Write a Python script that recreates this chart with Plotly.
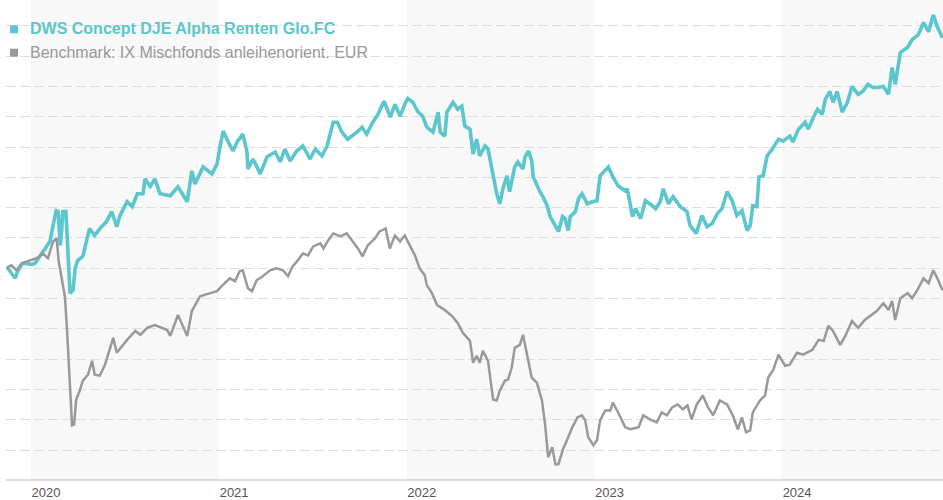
import plotly.graph_objects as go

fund_name = "DWS Concept DJE Alpha Renten Glo.FC"
bench_name = "Benchmark: IX Mischfonds anleihenorient. EUR"

fund_dates = [
    "2019-11-15", "2019-12-01", "2019-12-07", "2019-12-16", "2020-01-03", "2020-01-09", "2020-01-22",
    "2020-02-01", "2020-02-07", "2020-02-13", "2020-02-19", "2020-02-23", "2020-02-27", "2020-03-01",
    "2020-03-03", "2020-03-09", "2020-03-13", "2020-03-17", "2020-03-23", "2020-03-27", "2020-04-01",
    "2020-04-11", "2020-04-16", "2020-04-24", "2020-05-04", "2020-05-14", "2020-05-27", "2020-06-06",
    "2020-06-16", "2020-06-22", "2020-07-06", "2020-07-16", "2020-07-26", "2020-08-06", "2020-08-10",
    "2020-08-20", "2020-08-29", "2020-09-08", "2020-09-28", "2020-10-13", "2020-10-31", "2020-11-09",
    "2020-11-15", "2020-12-01", "2020-12-18", "2020-12-28", "2021-01-03", "2021-01-09", "2021-01-18",
    "2021-01-28", "2021-02-06", "2021-02-16", "2021-02-24", "2021-02-26", "2021-03-08", "2021-03-22",
    "2021-04-04", "2021-04-20", "2021-04-30", "2021-05-09", "2021-05-19", "2021-06-01", "2021-06-13",
    "2021-06-27", "2021-07-07", "2021-07-20", "2021-07-30", "2021-08-11", "2021-08-19", "2021-08-28",
    "2021-09-08", "2021-09-26", "2021-10-06", "2021-10-15", "2021-10-27", "2021-11-06", "2021-11-18",
    "2021-11-30", "2021-12-09", "2021-12-19", "2021-12-28", "2022-01-03", "2022-01-13", "2022-01-22",
    "2022-02-01", "2022-02-09", "2022-02-21", "2022-03-03", "2022-03-07", "2022-03-16", "2022-03-20",
    "2022-04-01", "2022-04-10", "2022-04-18", "2022-04-24", "2022-05-04", "2022-05-10", "2022-05-17",
    "2022-05-23", "2022-06-02", "2022-06-08", "2022-06-15", "2022-06-25", "2022-07-01", "2022-07-07",
    "2022-07-15", "2022-07-20", "2022-07-30", "2022-08-05", "2022-08-15", "2022-08-19", "2022-08-26",
    "2022-09-01", "2022-09-04", "2022-09-11", "2022-09-17", "2022-09-23", "2022-10-01", "2022-10-07",
    "2022-10-17", "2022-10-23", "2022-10-31", "2022-11-05", "2022-11-11", "2022-11-15", "2022-11-25",
    "2022-12-01", "2022-12-08", "2022-12-18", "2022-12-28", "2023-01-06", "2023-01-12", "2023-01-22",
    "2023-01-28", "2023-02-06", "2023-02-16", "2023-03-02", "2023-03-06", "2023-03-16", "2023-03-22",
    "2023-04-01", "2023-04-10", "2023-04-24", "2023-04-30", "2023-05-09", "2023-05-15", "2023-05-25",
    "2023-06-03", "2023-06-17", "2023-06-30", "2023-07-06", "2023-07-18", "2023-07-29", "2023-08-08",
    "2023-08-18", "2023-08-28", "2023-09-06", "2023-09-16", "2023-09-26", "2023-10-05", "2023-10-15",
    "2023-10-25", "2023-10-31", "2023-11-05", "2023-11-13", "2023-11-17", "2023-11-25", "2023-12-03",
    "2023-12-13", "2023-12-25", "2024-01-03", "2024-01-16", "2024-01-22", "2024-02-02", "2024-02-15",
    "2024-02-21", "2024-03-02", "2024-03-10", "2024-03-19", "2024-03-25", "2024-04-03", "2024-04-09",
    "2024-04-17", "2024-04-27", "2024-05-07", "2024-05-16", "2024-05-28", "2024-06-06", "2024-06-16",
    "2024-06-26", "2024-07-06", "2024-07-16", "2024-07-26", "2024-08-02", "2024-08-08", "2024-08-18",
    "2024-09-01", "2024-09-10", "2024-09-22", "2024-10-02", "2024-10-12", "2024-10-21", "2024-10-29",
    "2024-11-08",
]
fund_values = [
    0.10, -0.66, -0.13, 0.33, 0.26, 0.33, 0.98,
    1.44, 1.77, 2.82, 3.80, 3.74, 1.51, 2.62,
    3.74, 3.74, 0.46, -1.64, -1.44, 0.00, 0.52,
    0.79, 1.51, 2.62, 2.16, 2.62, 3.08, 3.74,
    2.75, 3.48, 4.39, 4.07, 4.92, 4.92, 5.90,
    5.40, 5.90, 4.92, 4.79, 5.38, 4.39, 6.43,
    5.57, 6.69, 6.23, 6.89, 8.07, 9.05, 8.39,
    7.74, 8.39, 8.85, 7.74, 6.56, 7.21, 6.23,
    7.34, 7.67, 7.02, 7.87, 7.08, 7.74, 8.07,
    7.21, 7.87, 7.41, 8.07, 9.64, 9.64, 8.98,
    8.52, 8.98, 9.31, 8.85, 9.64, 10.16, 11.02,
    9.97, 10.82, 10.03, 10.82, 11.21, 10.95, 10.36,
    10.03, 9.31, 8.98, 10.30, 8.98, 8.72, 10.30,
    10.95, 10.49, 10.69, 9.38, 9.18, 7.54, 8.52,
    7.41, 8.07, 7.87, 6.56, 4.92, 4.26, 5.25,
    6.10, 5.05, 6.69, 7.02, 6.56, 7.34, 7.74,
    7.08, 6.03, 5.44, 5.05, 4.72, 4.13, 3.41,
    2.75, 2.43, 3.41, 3.28, 2.49, 3.41, 3.74,
    4.59, 4.92, 4.26, 4.39, 4.46, 6.10, 6.43,
    6.69, 6.03, 5.44, 5.11, 5.25, 3.41, 3.93,
    3.28, 4.46, 4.13, 3.93, 4.39, 5.25, 4.26,
    4.72, 4.07, 3.74, 2.82, 2.30, 3.48, 2.75,
    2.95, 3.61, 3.93, 5.05, 4.46, 3.48, 3.80,
    2.49, 2.82, 4.13, 4.07, 6.03, 6.10, 7.41,
    7.87, 8.52, 8.39, 8.72, 8.33, 9.18, 9.64,
    9.18, 9.97, 10.49, 10.16, 11.15, 11.67, 10.95,
    11.67, 10.30, 10.95, 12.00, 11.48, 11.67, 12.13,
    11.93, 11.93, 12.00, 11.48, 13.25, 12.13, 14.23,
    14.56, 15.08, 15.41, 16.20, 15.61, 16.72, 15.93,
    15.21,
]

bench_dates = [
    "2019-11-15", "2019-11-24", "2019-12-04", "2019-12-14", "2019-12-30", "2020-01-12", "2020-01-24",
    "2020-02-03", "2020-02-13", "2020-02-20", "2020-02-24", "2020-03-01", "2020-03-07", "2020-03-11",
    "2020-03-17", "2020-03-21", "2020-03-25", "2020-03-29", "2020-04-05", "2020-04-11", "2020-04-21",
    "2020-04-29", "2020-05-04", "2020-05-14", "2020-05-24", "2020-06-03", "2020-06-09", "2020-06-16",
    "2020-06-26", "2020-07-06", "2020-07-22", "2020-08-01", "2020-08-14", "2020-08-29", "2020-09-22",
    "2020-09-28", "2020-10-13", "2020-10-31", "2020-11-09", "2020-11-25", "2020-12-15", "2020-12-28",
    "2021-01-06", "2021-01-22", "2021-02-01", "2021-02-10", "2021-02-16", "2021-02-26", "2021-03-06",
    "2021-03-15", "2021-03-27", "2021-04-10", "2021-04-23", "2021-05-05", "2021-05-15", "2021-05-24",
    "2021-06-03", "2021-06-13", "2021-06-23", "2021-07-03", "2021-07-17", "2021-07-23", "2021-08-01",
    "2021-08-11", "2021-08-25", "2021-09-06", "2021-09-18", "2021-09-28", "2021-10-07", "2021-10-17",
    "2021-10-31", "2021-11-09", "2021-11-21", "2021-11-29", "2021-12-09", "2021-12-19", "2021-12-28",
    "2022-01-07", "2022-01-17", "2022-01-26", "2022-02-05", "2022-02-09", "2022-02-19", "2022-03-01",
    "2022-03-16", "2022-03-30", "2022-04-10", "2022-04-20", "2022-05-04", "2022-05-10", "2022-05-17",
    "2022-05-23", "2022-05-29", "2022-06-08", "2022-06-18", "2022-06-25", "2022-07-01", "2022-07-11",
    "2022-07-17", "2022-07-24", "2022-07-30", "2022-08-09", "2022-08-15", "2022-08-23", "2022-09-01",
    "2022-09-11", "2022-09-21", "2022-09-27", "2022-10-03", "2022-10-11", "2022-10-17", "2022-10-23",
    "2022-11-01", "2022-11-11", "2022-11-19", "2022-11-29", "2022-12-08", "2022-12-14", "2022-12-20",
    "2022-12-30", "2023-01-06", "2023-01-12", "2023-01-22", "2023-02-01", "2023-02-06", "2023-02-16",
    "2023-03-02", "2023-03-12", "2023-03-28", "2023-04-06", "2023-04-19", "2023-05-02", "2023-05-12",
    "2023-05-22", "2023-06-01", "2023-06-12", "2023-06-22", "2023-07-01", "2023-07-09", "2023-07-19",
    "2023-07-31", "2023-08-10", "2023-08-20", "2023-09-02", "2023-09-16", "2023-09-27", "2023-10-07",
    "2023-10-15", "2023-10-23", "2023-10-31", "2023-11-05", "2023-11-19", "2023-11-29", "2023-12-05",
    "2023-12-15", "2023-12-25", "2024-01-07", "2024-01-16", "2024-01-30", "2024-02-11", "2024-02-29",
    "2024-03-12", "2024-03-22", "2024-03-31", "2024-04-09", "2024-04-23", "2024-05-03", "2024-05-16",
    "2024-05-28", "2024-06-10", "2024-06-20", "2024-07-03", "2024-07-16", "2024-07-26", "2024-08-02",
    "2024-08-08", "2024-08-18", "2024-09-01", "2024-09-10", "2024-09-20", "2024-10-02", "2024-10-12",
    "2024-10-21", "2024-10-29", "2024-11-08",
]
bench_values = [
    0.05, 0.20, -0.13, 0.33, 0.52, 0.66, 0.98,
    0.66, 1.77, 1.97, 0.46, -0.66, -1.84, -3.93,
    -8.33, -10.36, -10.30, -8.66, -8.07, -7.41, -7.02,
    -6.10, -7.02, -7.08, -6.36, -5.25, -4.59, -5.57,
    -5.11, -4.72, -4.13, -4.39, -3.93, -3.74, -4.07,
    -4.46, -3.08, -4.46, -2.82, -1.84, -1.64, -1.51,
    -1.18, -0.66, -0.85, -0.20, -0.13, -1.31, -1.51,
    -0.79, -0.52, -0.13, 0.00, -0.13, -0.52, 0.13,
    0.52, 0.98, 0.85, 1.44, 1.64, 1.31, 1.84,
    2.30, 2.10, 2.30, 1.77, 1.31, 0.79, 1.51,
    1.97, 2.43, 2.62, 1.31, 2.16, 1.77, 2.16,
    1.51, 0.85, 0.00, -0.46, -1.11, -1.64, -2.43,
    -2.75, -3.15, -3.61, -4.26, -4.79, -6.23, -5.77,
    -6.23, -5.44, -6.10, -8.66, -8.72, -8.07, -7.41,
    -7.34, -6.56, -5.25, -5.05, -4.39, -5.70, -7.21,
    -7.54, -8.72, -10.30, -12.46, -11.80, -12.92, -12.92,
    -11.93, -11.15, -10.49, -9.84, -9.70, -10.03, -11.15,
    -11.67, -11.34, -10.03, -9.38, -9.38, -8.85, -9.51,
    -10.49, -10.62, -10.49, -9.70, -9.97, -10.16, -9.51,
    -9.70, -9.18, -8.98, -9.31, -9.05, -9.97, -8.98,
    -8.39, -9.18, -9.70, -8.72, -8.98, -9.70, -10.62,
    -9.84, -10.82, -10.69, -9.51, -8.72, -8.39, -7.21,
    -6.69, -5.70, -6.43, -6.36, -5.57, -5.70, -5.38,
    -4.72, -4.79, -3.80, -4.13, -5.05, -4.46, -3.48,
    -3.93, -3.41, -3.15, -2.82, -2.30, -2.75, -2.16,
    -3.41, -1.97, -1.64, -1.97, -1.44, -0.66, -0.98,
    -0.13, -0.66, -1.44,
]

year_ticks = ["2020-01-01", "2021-01-01", "2022-01-01", "2023-01-01", "2024-01-01"]
year_labels = ["2020", "2021", "2022", "2023", "2024"]
shaded_years = [2020, 2022, 2024]

TEAL = "#5bc6cd"
GRAY = "#999999"

fig = go.Figure()
fig.add_trace(go.Scatter(x=fund_dates, y=fund_values, mode="lines", name=fund_name,
                         line=dict(color=TEAL, width=3.6), showlegend=False, hoverinfo="skip"))
fig.add_trace(go.Scatter(x=bench_dates, y=bench_values, mode="lines", name=bench_name,
                         line=dict(color=GRAY, width=2.5), showlegend=False, hoverinfo="skip"))

for yr in shaded_years:
    fig.add_shape(type="rect", xref="x", yref="paper", x0=f"{yr}-01-01", x1=f"{yr + 1}-01-01",
                  y0=0, y1=1, fillcolor="#f8f8f8", line=dict(width=0), layer="below")

# legend squares and labels
fig.add_shape(type="rect", xref="paper", yref="paper", x0=0.0043, x1=0.0128, y0=0.9305, y1=0.9471,
              fillcolor=TEAL, line=dict(width=0))
fig.add_shape(type="rect", xref="paper", yref="paper", x0=0.0043, x1=0.0128, y0=0.8817, y1=0.8983,
              fillcolor=GRAY, line=dict(width=0))
fig.add_annotation(xref="paper", yref="paper", x=0.0235, y=0.9398, xanchor="left", yanchor="middle",
                   text=f"<b>{fund_name}</b>", showarrow=False,
                   font=dict(family="Liberation Sans, Arial", size=16, color=TEAL))
fig.add_annotation(xref="paper", yref="paper", x=0.0235, y=0.8900, xanchor="left", yanchor="middle",
                   text=bench_name, showarrow=False,
                   font=dict(family="Liberation Sans, Arial", size=16, color=GRAY))

fig.update_layout(
    width=943, height=500,
    margin=dict(l=6, r=0, t=0, b=18),
    paper_bgcolor="white", plot_bgcolor="white",
    showlegend=False,
    xaxis=dict(
        range=["2019-11-13 12:00", "2024-11-09"],
        tickvals=year_ticks, ticktext=year_labels,
        ticks="", showgrid=False, zeroline=False,
        showline=True, linecolor="#dcdcdc", linewidth=2,
        tickfont=dict(family="Liberation Sans, Arial", size=13, color="#555555"),
        ticklabelshift=15, ticklabelstandoff=0,
    ),
    yaxis=dict(
        range=[-13.90, 17.70], dtick=2, tick0=0,
        showticklabels=False, ticks="", zeroline=False,
        showgrid=True, gridcolor="#dedede", gridwidth=1, griddash="10px,4px",
    ),
)

fig.write_html("out.html", config={"displayModeBar": False},
               post_script="document.body.style.margin='0px';")
